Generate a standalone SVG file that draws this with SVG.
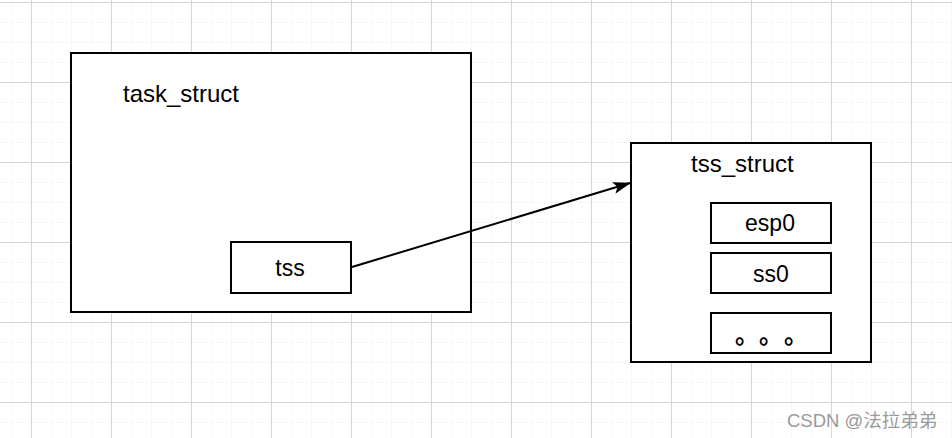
<svg xmlns="http://www.w3.org/2000/svg" width="952" height="438" viewBox="0 0 952 438">
<defs>
<pattern id="minor" x="11" y="2" width="20" height="20" patternUnits="userSpaceOnUse">
<path d="M0 0H20M0 0V20" fill="none" stroke="#efefef" stroke-width="1"/>
</pattern>
<pattern id="major" x="31" y="2" width="80" height="80" patternUnits="userSpaceOnUse">
<path d="M0 0.5H80M0.5 0V80" fill="none" stroke="#d6d6d6" stroke-width="1"/>
</pattern>
<marker id="arrow" viewBox="0 0 18 12" refX="17" refY="6" markerWidth="18" markerHeight="12" markerUnits="userSpaceOnUse" orient="auto">
<path d="M0 0L18 6L0 12L4 6Z" fill="#000"/>
</marker>
<style>
.box{fill:#fff;stroke:#000;stroke-width:2}
.t{font-family:"Liberation Sans",Arial,Helvetica,sans-serif;font-size:23px;fill:#000}
.c{text-anchor:middle}
.edge{fill:none;stroke:#000;stroke-width:2}
.dots{font-family:"Noto Sans CJK SC","Noto Sans CJK JP",sans-serif;font-size:24px;font-weight:bold;fill:#000}
</style>
</defs>
<rect width="952" height="438" fill="#fff"/>
<rect width="952" height="438" fill="url(#minor)"/>
<rect width="952" height="438" fill="url(#major)"/>
<g id="task_struct">
<rect class="box" x="71" y="53" width="400" height="259"/>
<text class="t" x="123" y="102" style="font-size:24px">task_struct</text>
</g>
<g id="tss">
<rect class="box" x="231" y="242" width="120" height="51"/>
<text class="t c" x="290" y="276">tss</text>
</g>
<g id="tss_struct">
<rect class="box" x="631" y="143" width="240" height="219"/>
<text class="t" x="691" y="172" style="font-size:24px">tss_struct</text>
</g>
<g id="esp0">
<rect class="box" x="711" y="203" width="120" height="40"/>
<text class="t c" x="770" y="231">esp0</text>
</g>
<g id="ss0">
<rect class="box" x="711" y="253" width="120" height="40"/>
<text class="t c" x="771" y="282">ss0</text>
</g>
<g id="more">
<rect class="box" x="711" y="313" width="120" height="40"/>
<text class="dots" x="735 759 784" y="343">。。。</text>
</g>
<g id="connectors">
<path class="edge" d="M352 267L630 183" marker-end="url(#arrow)"/>
</g>
<text x="787" y="427" style="font-family:'Liberation Sans','Noto Sans CJK SC',sans-serif;font-size:18.5px;fill:#9a9a9a">CSDN @法拉弟弟</text>
</svg>
